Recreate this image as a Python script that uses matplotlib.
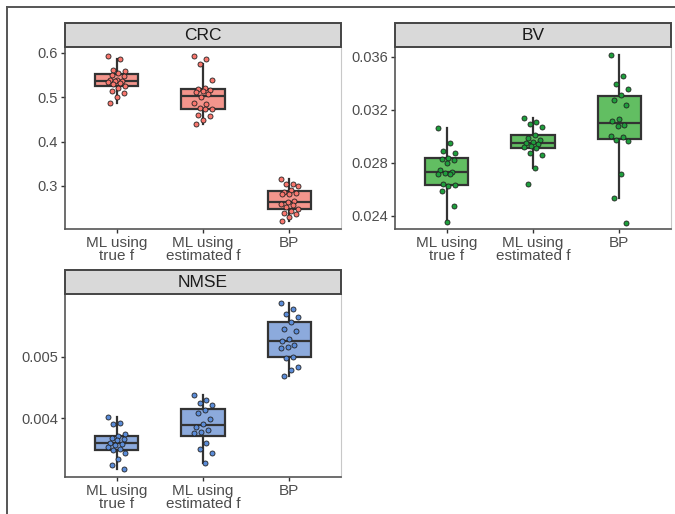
import numpy as np
import matplotlib.pyplot as plt
from matplotlib.lines import Line2D
from matplotlib.patches import Rectangle

plt.rcParams['font.family'] = ['Liberation Sans', 'DejaVu Sans']

methods = ['ML using\ntrue f', 'ML using\nestimated f', 'BP']

crc_true = [0.593, 0.586, 0.562, 0.559, 0.555, 0.551, 0.547, 0.540, 0.538, 0.537,
            0.536, 0.535, 0.533, 0.530, 0.526, 0.522, 0.515, 0.509, 0.500, 0.487]
crc_est = [0.593, 0.587, 0.576, 0.540, 0.520, 0.518, 0.516, 0.515, 0.513, 0.507,
           0.501, 0.487, 0.485, 0.475, 0.474, 0.473, 0.460, 0.457, 0.449, 0.440]
crc_bp = [0.315, 0.305, 0.304, 0.300, 0.290, 0.287, 0.285, 0.283, 0.281, 0.266,
          0.263, 0.260, 0.257, 0.252, 0.248, 0.244, 0.240, 0.236, 0.229, 0.222]

bv_true = [0.03061, 0.02949, 0.02891, 0.02878, 0.02840, 0.02830, 0.02820, 0.02797,
           0.02744, 0.02734, 0.02727, 0.02720, 0.02714, 0.02638, 0.02630, 0.02625,
           0.02592, 0.02478, 0.02354]
bv_est = [0.03139, 0.03111, 0.03094, 0.03068, 0.03010, 0.02987, 0.02972, 0.02959,
          0.02949, 0.02942, 0.02929, 0.02916, 0.02909, 0.02878, 0.02861, 0.02759,
          0.02643]
bv_bp = [0.03613, 0.03456, 0.03392, 0.03359, 0.03314, 0.03271, 0.03233, 0.03127,
         0.03114, 0.03089, 0.03078, 0.03005, 0.02992, 0.02972, 0.02962, 0.02714,
         0.02532, 0.02347]

nmse_true = [0.004016, 0.003919, 0.003903, 0.003746, 0.003714, 0.003686, 0.003659,
             0.003640, 0.003605, 0.003584, 0.003562, 0.003530, 0.003508, 0.003486,
             0.003432, 0.003335, 0.003243, 0.003173]
nmse_est = [0.004378, 0.004297, 0.004243, 0.004216, 0.004135, 0.004081, 0.003984,
            0.003903, 0.003865, 0.003811, 0.003784, 0.003757, 0.003605, 0.003497,
            0.003443, 0.003270]
nmse_bp = [0.005876, 0.005768, 0.005686, 0.005649, 0.005568, 0.005443, 0.005416,
           0.005281, 0.005259, 0.005189, 0.005151, 0.005135, 0.005000, 0.004973,
           0.004838, 0.004784, 0.004686]

panels = [
    dict(title='CRC', groups=[crc_true, crc_est, crc_bp], box='#F4958C', dot='#F8766D',
         ylim=(0.203, 0.6135), ticks=[0.3, 0.4, 0.5, 0.6], fmt='{:.1f}',
         rect=[65, 47, 341, 229]),
    dict(title='BV', groups=[bv_true, bv_est, bv_bp], box='#62BE62', dot='#1E9E3C',
         ylim=(0.02302, 0.03673), ticks=[0.024, 0.028, 0.032, 0.036], fmt='{:.3f}',
         rect=[395, 47, 671, 229]),
    dict(title='NMSE', groups=[nmse_true, nmse_est, nmse_bp], box='#8CAADC', dot='#5B8CD8',
         ylim=(0.003047, 0.006018), ticks=[0.004, 0.005], fmt='{:.3f}',
         rect=[65, 294, 341, 477]),
]

W, H = 675, 514
fig = plt.figure(figsize=(W / 100, H / 100), dpi=100)

# outer frame lines along top and left
fig.add_artist(Line2D([7 / W, 1], [1 - 7 / H, 1 - 7 / H], color='#555555', lw=1.4,
                      transform=fig.transFigure))
fig.add_artist(Line2D([7 / W, 7 / W], [0, 1 - 7 / H], color='#555555', lw=1.4,
                      transform=fig.transFigure))

strip_h = 24
for p in panels:
    x0, y0, x1, y1 = p['rect']
    ax = fig.add_axes([x0 / W, 1 - y1 / H, (x1 - x0) / W, (y1 - y0) / H])
    pos = np.arange(1, 4)
    bp = ax.boxplot(p['groups'], positions=pos, widths=0.5, patch_artist=True,
                    showfliers=False, showcaps=False,
                    boxprops=dict(facecolor=p['box'], edgecolor='#333333', linewidth=1.6),
                    medianprops=dict(color='#333333', linewidth=1.6),
                    whiskerprops=dict(color='#333333', linewidth=1.6))
    for patch in bp['boxes']:
        patch.set_zorder(2)
    # jittered points
    for k, vals in enumerate(p['groups']):
        n = len(vals)
        offs = np.array([((i * 7) % 11 - 5) / 5 * 0.1 for i in range(n)])
        ax.scatter(pos[k] + offs, vals, s=13, color=p['dot'], edgecolor='#222222',
                   linewidth=0.6, zorder=3)
    ax.set_xlim(0.4, 3.6)
    ax.set_ylim(*p['ylim'])
    ax.set_yticks(p['ticks'])
    ax.set_yticklabels([p['fmt'].format(t) for t in p['ticks']])
    ax.set_xticks(pos)
    ax.set_xticklabels(methods, linespacing=0.95)
    ax.tick_params(colors='#333333', labelcolor='#4D4D4D', labelsize=10.5,
                   length=3, width=1, pad=2)
    ax.tick_params(axis='x', labelsize=11)
    ax.spines['top'].set_visible(False)
    ax.spines['right'].set_color('#C8C8C8')
    ax.spines['right'].set_linewidth(0.8)
    for s in ['left', 'bottom']:
        ax.spines[s].set_color('#555555')
        ax.spines[s].set_linewidth(1.2)
    # facet strip
    sax = fig.add_axes([x0 / W, 1 - y0 / H, (x1 - x0) / W, strip_h / H])
    sax.set_xlim(0, 1)
    sax.set_ylim(0, 1)
    sax.axis('off')
    sax.add_patch(Rectangle((0, 0), 1, 1, transform=sax.transAxes, facecolor='#D9D9D9',
                            edgecolor='#444444', linewidth=1.4, clip_on=False))
    sax.text(0.5, 0.48, p['title'], ha='center', va='center', fontsize=12.5,
             color='#1A1A1A')

fig.savefig('out.png', dpi=100)
